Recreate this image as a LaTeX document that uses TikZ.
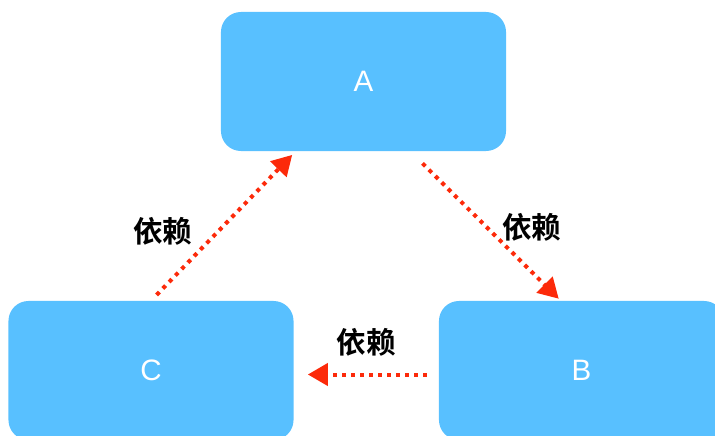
\documentclass[tikz,border=0pt]{standalone}
\usepackage{fontspec}
\setmainfont{Liberation Sans}
\newfontfamily\cjk{Noto Sans CJK SC}[BoldFont={Noto Sans CJK SC Bold}]
\usetikzlibrary{arrows.meta}
\definecolor{boxblue}{RGB}{88,192,255}
\definecolor{deparrow}{RGB}{252,42,10}
\tikzset{
  module/.style={fill=boxblue, rounded corners=0.5cm, minimum width=7.125cm, minimum height=3.475cm, text=white, font=\fontsize{21}{25}\selectfont},
  depends/.style={deparrow, line width=0.1cm, dash pattern=on 0.1cm off 0.125cm, -{Triangle[length=0.5cm, width=0.55cm]}},
  dep label/.style={black, inner sep=0pt, font=\cjk\bfseries\fontsize{21}{25}\selectfont}
}
\begin{document}
\begin{tikzpicture}[x=0.025cm, y=0.025cm]
\useasboundingbox (0,0) rectangle (715,435);
\begin{scope}
\clip (0,0) rectangle (715,435);
\node[module] (A) at (363.5,353.5) {A};
\node[module] (C) at (151,64.5) {C};
\node[module] (B) at (581.5,64.5) {B};
\end{scope}

\draw[depends, shorten <=0.2cm, shorten >=0.125cm] (C.north) -- ([xshift=1.875cm]A.south west) node[dep label, midway, xshift=-1.51cm, yshift=-0.125cm] {依赖};
\draw[depends, shorten <=0.43cm, shorten >=0.07cm] ([xshift=-2.4cm]A.south east) -- ([xshift=3.05cm]B.north west) node[dep label, midway, xshift=1.16cm, yshift=-0.025cm] {依赖};
\draw[depends, shorten <=0.3cm, shorten >=0.35cm] ([yshift=-0.1cm]B.west) -- ([yshift=-0.1cm]C.east) node[dep label, midway, yshift=0.8cm] {依赖};
\end{tikzpicture}
\end{document}
